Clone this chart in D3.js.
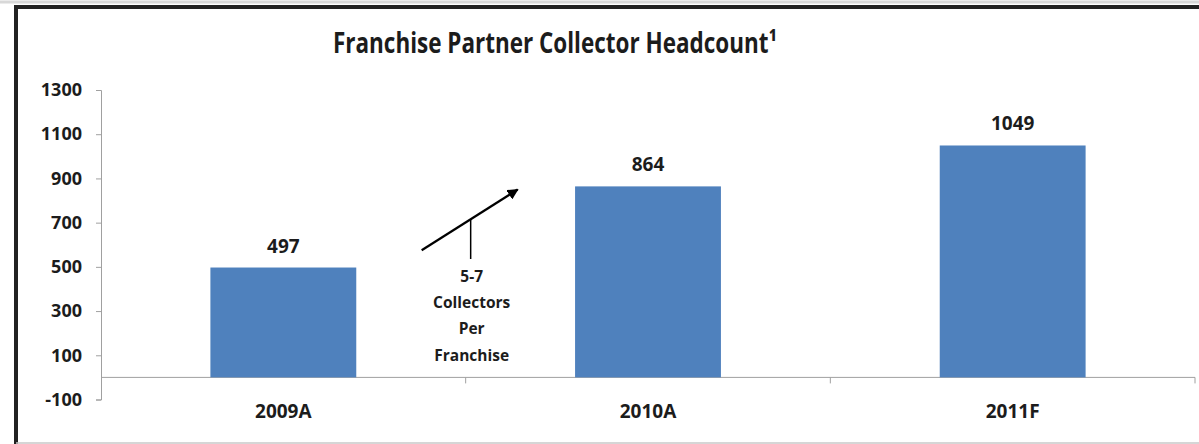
<!DOCTYPE html>
<html>
<head>
<meta charset="utf-8">
<script src="https://cdn.jsdelivr.net/npm/d3@7"></script>
<style>
  body { margin: 0; background: #fff; }
  text { font-family: "Open Sans", "Liberation Sans", sans-serif; font-weight: bold; fill: #1c1c1c; }
</style>
</head>
<body>
<script>
// chart data
var categories = ["2009A", "2010A", "2011F"];
var headcount = [497, 864, 1049];
var yTicks = [-100, 100, 300, 500, 700, 900, 1100, 1300];
var noteLines = ["5-7", "Collectors", "Per", "Franchise"];

window.onload = function() {
    var w = 1199, h = 444;

    var svg = d3.select("body")
        .append("svg")
        .attr("width", w)
        .attr("height", h);

    // frame round the chart
    svg.append("line").attr("x1", 0).attr("x2", w).attr("y1", 2).attr("y2", 2)
        .attr("stroke", "#d8d8d8").attr("stroke-width", 3);
    svg.append("line").attr("x1", 14).attr("x2", w).attr("y1", 7).attr("y2", 7)
        .attr("stroke", "#222").attr("stroke-width", 4);
    svg.append("line").attr("x1", 16).attr("x2", 16).attr("y1", 5).attr("y2", h)
        .attr("stroke", "#222").attr("stroke-width", 4);
    svg.append("line").attr("x1", 16).attr("x2", w).attr("y1", 443).attr("y2", 443)
        .attr("stroke", "#c8c8c8").attr("stroke-width", 1.5);

    // scales
    var x = d3.scaleBand()
        .domain(categories)
        .range([101, 1195])
        .paddingInner(0.6)
        .paddingOuter(0.3);

    var y = d3.scaleLinear()
        .domain([-100, 1300])
        .range([399.5, 90]);

    // y axis
    var yAxis = svg.append("g")
        .attr("transform", "translate(101,0)")
        .call(d3.axisLeft(y).tickValues(yTicks).tickSize(5).tickPadding(14)
            .tickFormat(function(d) { return String(d); }));
    yAxis.select(".domain").attr("stroke", "#a0a0a0");
    yAxis.selectAll(".tick line").attr("stroke", "#a0a0a0");
    yAxis.selectAll(".tick text")
        .style("font-size", "18px")
        .style("font-family", "\"Open Sans\", sans-serif")
        .style("font-weight", "bold")
        .attr("fill", "#2a2a2a");

    // x axis along zero
    var zeroY = y(0);
    var step = x.step();
    svg.append("line")
        .attr("x1", 101).attr("x2", 1195)
        .attr("y1", zeroY).attr("y2", zeroY)
        .attr("stroke", "#a0a0a0").attr("stroke-width", 1);

    var bounds = categories.map(function(c) { return x(c) + x.bandwidth() + step * x.paddingInner() / 2; });
    svg.selectAll(".xtick")
        .data(bounds)
        .enter().append("line")
        .attr("class", "xtick")
        .attr("x1", function(d) { return d; })
        .attr("x2", function(d) { return d; })
        .attr("y1", zeroY)
        .attr("y2", zeroY + 6)
        .attr("stroke", "#a0a0a0");

    // bars
    svg.selectAll(".bar")
        .data(headcount)
        .enter().append("rect")
        .attr("class", "bar")
        .attr("x", function(d, i) { return x(categories[i]); })
        .attr("y", function(d) { return y(d); })
        .attr("width", x.bandwidth())
        .attr("height", function(d) { return zeroY - y(d); })
        .attr("fill", "#4f81bd");

    // value labels
    svg.selectAll(".val")
        .data(headcount)
        .enter().append("text")
        .attr("class", "val")
        .attr("x", function(d, i) { return x(categories[i]) + x.bandwidth() / 2; })
        .attr("y", function(d) { return y(d) - 15; })
        .attr("text-anchor", "middle")
        .style("font-size", "19px")
        .text(function(d) { return d; });

    // category labels
    svg.selectAll(".cat")
        .data(categories)
        .enter().append("text")
        .attr("class", "cat")
        .attr("x", function(d) { return x(d) + x.bandwidth() / 2; })
        .attr("y", zeroY + 41)
        .attr("text-anchor", "middle")
        .style("font-size", "19px")
        .text(function(d) { return d; });

    // title, footnote mark as a superscript character
    svg.append("text")
        .attr("x", 333)
        .attr("y", 53)
        .style("font-size", "28px")
        .attr("textLength", 444)
        .attr("lengthAdjust", "spacingAndGlyphs")
        .text("Franchise Partner Collector Headcount\u00B9");

    // annotation arrow between 2009A and 2010A
    var mid = bounds[0];
    var ax0 = mid - 44, ay0 = y(575);
    var ax1 = mid + 52, ay1 = y(850);

    svg.append("defs").append("marker")
        .attr("id", "head")
        .attr("viewBox", "0 0 10 10")
        .attr("refX", 9).attr("refY", 5)
        .attr("markerWidth", 5).attr("markerHeight", 5)
        .attr("orient", "auto")
        .append("path")
        .attr("d", "M0,0 L10,5 L0,10 z")
        .attr("fill", "#000");

    svg.append("line")
        .attr("x1", ax0).attr("y1", ay0)
        .attr("x2", ax1).attr("y2", ay1)
        .attr("stroke", "#000").attr("stroke-width", 2.2)
        .attr("marker-end", "url(#head)");

    var noteX = mid + 5;
    var t = (noteX - ax0) / (ax1 - ax0);
    svg.append("line")
        .attr("x1", noteX).attr("x2", noteX)
        .attr("y1", ay0 + t * (ay1 - ay0))
        .attr("y2", 259)
        .attr("stroke", "#000").attr("stroke-width", 1.5);

    svg.selectAll(".note")
        .data(noteLines)
        .enter().append("text")
        .attr("class", "note")
        .attr("x", noteX + 1)
        .attr("y", function(d, i) { return 281.5 + i * 26.4; })
        .attr("text-anchor", "middle")
        .style("font-size", "15.5px")
        .text(function(d) { return d; });
};
</script>
</body>
</html>
